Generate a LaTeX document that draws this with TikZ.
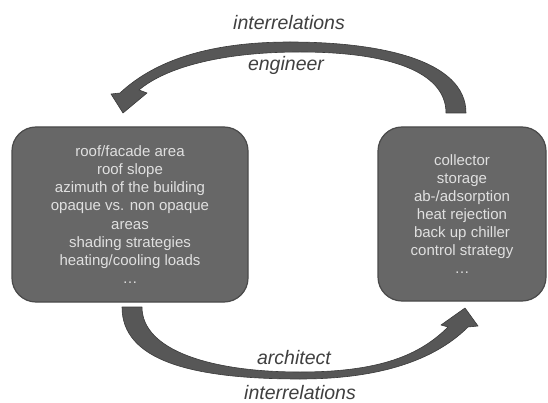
\documentclass[tikz,border=0pt]{standalone}
\usepackage{fontspec}
\setmainfont{Liberation Sans}
\definecolor{boxfill}{HTML}{676767}
\definecolor{boxdraw}{HTML}{4A4A4A}
\definecolor{arrowfill}{HTML}{575757}
\definecolor{arrowdraw}{HTML}{3A3A3A}
\definecolor{boxtext}{HTML}{E0E0E0}
\definecolor{labeltext}{HTML}{404040}
\begin{document}
\begin{tikzpicture}[x=1pt,y=-1pt,
  panel/.style={draw=boxdraw, line width=1.2pt, fill=boxfill, rounded corners=24pt,
    text=boxtext, align=center, font=\fontsize{15}{18.2}\selectfont, inner sep=0pt},
  bigarrow/.style={fill=arrowfill, draw=arrowdraw, line width=0.6pt, line join=round},
  lbl/.style={font=\fontsize{19.5}{22}\selectfont\itshape, text=labeltext, inner sep=0pt}]
\useasboundingbox (0,0) rectangle (548,403);

% boxes
\node[panel, minimum width=236pt, minimum height=175pt] (arch) at (130,214.5)
  {roof/facade area\\ roof slope\\ azimuth of the building\\ opaque vs. non opaque\\ areas\\ shading strategies\\ heating/cooling loads\\ …};
\node[panel, minimum width=168pt, minimum height=174pt, font=\fontsize{15}{17.9}\selectfont] (eng) at (462,214)
  {collector\\ storage\\ ab-/adsorption\\ heat rejection\\ back up chiller\\ control strategy\\ …};

% top arrow (engineer): from right box to left box
\coordinate (engTailL) at (446,113);
\coordinate (engTailR) at (466,113);
\coordinate (engTip) at (123,113);
\fill[bigarrow] (engTailR) .. controls (466,60) and (380,42) .. (290,42)
  .. controls (200,42) and (150,65) .. (120,93)
  -- (111,94) -- (engTip) -- (147,93) -- (139,90)
  .. controls (165,68) and (220,52) .. (300,52)
  .. controls (390,52) and (446,72) .. (engTailL) -- cycle;

% bottom arrow (architect): from left box to right box
\coordinate (archTailL) at (122,307);
\coordinate (archTailR) at (142,307);
\coordinate (archTip) at (465,308);
\fill[bigarrow] (archTailL) .. controls (122,360) and (190,379) .. (300,379)
  .. controls (390,379) and (440,355) .. (468,327)
  -- (478,326) -- (archTip) -- (441,325) -- (448,327)
  .. controls (420,355) and (380,372) .. (300,372)
  .. controls (210,372) and (142,350) .. (archTailR) -- cycle;

% labels
\node[lbl] (topinter) at (289,23) {interrelations};
\node[lbl] (englbl) at (286,65) {engineer};
\node[lbl] (archlbl) at (294,358) {architect};
\node[lbl] (botinter) at (300,392.5) {interrelations};
\end{tikzpicture}
\end{document}
